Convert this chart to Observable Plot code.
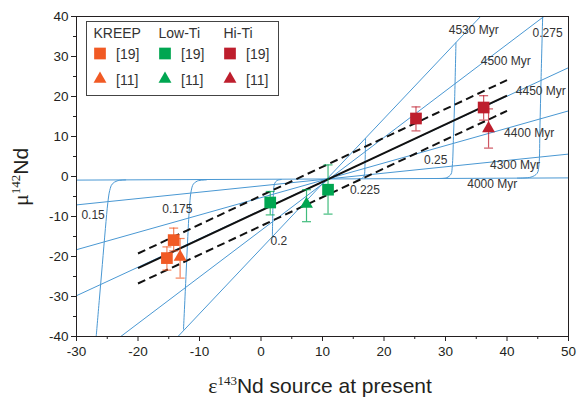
<!DOCTYPE html>
<html>
<head>
<meta charset="utf-8">
<script src="https://cdn.jsdelivr.net/npm/d3@7"></script>
<script src="https://cdn.jsdelivr.net/npm/@observablehq/plot@0.6"></script>
<style>
  html, body { margin: 0; padding: 0; background: #fff; }
  #chart { position: relative; width: 579px; height: 402px; }
</style>
</head>
<body>
<div id="chart"></div>
<script>
// ---- Axis ticks ----
const xTicks = [-30, -20, -10, 0, 10, 20, 30, 40, 50];
const xMinor = [-25, -15, -5, 5, 15, 25, 35, 45];
const yTicks = [-40, -30, -20, -10, 0, 10, 20, 30, 40];
const yMinor = [-35, -25, -15, -5, 5, 15, 25, 35];

// ---- Model isochrons (straight lines, endpoints) ----
const isoAges = ["4000 Myr", "4300 Myr", "4400 Myr", "4450 Myr", "4500 Myr", "4530 Myr"];
const isoX1 = [-30, -30, -30, -30, -22.8, -13.5];
const isoY1 = [-0.9, -7.1, -18.3, -29.8, -40, -40];
const isoX2 = [50, 50, 50, 50, 46.0, 35.7];
const isoY2 = [-0.35, 5.6, 16.4, 27.2, 40, 40];
const ageLabelX = [37.6, 41.3, 43.6, 45.5, 39.8, 34.6];
const ageLabelY = [-1.9, 2.9, 10.75, 21.25, 28.9, 36.7];

// ---- Model curves for constant source Sm/Nd ----
const ratioNames = ["0.15", "0.175", "0.2", "0.225", "0.25", "0.275"];
const curve015 = [[-22.0,-0.85],[-23.4,-1.1],[-24.2,-1.9],[-24.6,-3.5],[-24.9,-6.5],[-25.3,-13],[-25.8,-22],[-26.3,-31],[-26.8,-40]];
const curve0175 = [[-8.9,-0.85],[-10.3,-1.1],[-11.0,-1.9],[-11.35,-3.6],[-11.6,-7],[-11.9,-15],[-12.2,-25],[-12.6,-38.2]];
const curve02 = [[3.3,-0.75],[2.6,-1.0],[2.2,-1.8],[2.05,-3.5],[1.95,-7],[1.85,-15.0]];
const curve0225 = [[15.8,-0.65],[16.5,-0.4],[16.8,0.4],[16.9,2.5],[17.0,9.5]];
const curve025 = [[28.7,-0.5],[30.2,-0.3],[30.9,0.6],[31.1,2.5],[31.3,10],[31.5,20],[31.7,33.4]];
const curve0275 = [[41.7,-0.4],[43.9,-0.15],[44.9,0.8],[45.2,3.0],[45.35,12],[45.55,25],[45.8,40]];
const ratioLabelX = [-27.3, -13.6, 2.9, 16.9, 28.4, 46.6];
const ratioLabelY = [-9.6, -8.1, -16.1, -3.3, 4.1, 35.8];

// ---- Samples ----
const groups = ["KREEP","KREEP","KREEP","Low-Ti","Low-Ti","Low-Ti","Hi-Ti","Hi-Ti","Hi-Ti"];
const refs   = ["[19]","[19]","[11]","[19]","[19]","[11]","[19]","[19]","[11]"];
const eps    = [-15.3, -14.2, -13.15, 1.5, 10.9, 7.4, 25.2, 36.2, 37.0];
const mu     = [-20.4, -15.9, -20.1, -6.5, -3.3, -6.9, 14.5, 17.25, 12.0];
const muLo   = [-23.4, -18.6, -25.4, -9.6, -9.4, -11.3, 11.4, 14.1, 7.1];
const muHi   = [-17.6, -12.9, -15.5, -3.75, 2.9, -3.3, 17.4, 20.2, 16.9];

// ---- Regression line and confidence band ----
const regX = [-20, 40];
const regMid = [-22.9, 20.2];
const regUp = [-19.25, 24.1];
const regLo = [-26.75, 16.4];

// ---- Legend ----
const legendGroups = ["KREEP", "Low-Ti", "Hi-Ti"];
const legendRefs = ["[19]", "[11]"];

// ---------------- build tables ----------------
const groupColor = {"KREEP": "#f15a24", "Low-Ti": "#00a651", "Hi-Ti": "#be1e2d"};
const isoLines = isoAges.map((a, i) => ({age: a, x1: isoX1[i], y1: isoY1[i], x2: isoX2[i], y2: isoY2[i]}));
const ageLabels = isoAges.map((a, i) => ({t: a, x: ageLabelX[i], y: ageLabelY[i]}));
const curveSets = [curve015, curve0175, curve02, curve0225, curve025, curve0275];
const curvePts = curveSets.flatMap((c, i) => c.map(([x, y]) => ({r: ratioNames[i], x, y})));
const ratioLabels = ratioNames.map((r, i) => ({t: r, x: ratioLabelX[i], y: ratioLabelY[i]}));
const samples = eps.map((e, i) => ({g: groups[i], ref: refs[i], x: e, y: mu[i], lo: muLo[i], hi: muHi[i]}));
const sq = samples.filter(d => d.ref === "[19]");
const tri = samples.filter(d => d.ref === "[11]");
const regs = [
  {x1: regX[0], y1: regMid[0], x2: regX[1], y2: regMid[1], k: "mid"},
  {x1: regX[0], y1: regUp[0], x2: regX[1], y2: regUp[1], k: "up"},
  {x1: regX[0], y1: regLo[0], x2: regX[1], y2: regLo[1], k: "lo"}
];
const capSymbol = {draw(ctx, size) { const w = 4.5; ctx.moveTo(-w, 0); ctx.lineTo(w, 0); }};

const blue = "#4a98d3";
const ink = "#231f20";
const fontFam = "'Liberation Sans', Arial, Helvetica, sans-serif";

const chart = Plot.plot({
  width: 579,
  height: 402,
  marginLeft: 76,
  marginRight: 11,
  marginTop: 16,
  marginBottom: 66,
  style: {fontFamily: fontFam, fontSize: "13px", color: ink, background: "white"},
  x: {domain: [-30, 50], label: null},
  y: {domain: [-40, 40], label: null},
  marks: [
    Plot.link(isoLines, {x1: "x1", y1: "y1", x2: "x2", y2: "y2", stroke: blue, strokeWidth: 1, clip: true}),
    Plot.line(curvePts, {x: "x", y: "y", z: "r", stroke: blue, strokeWidth: 1, curve: "catmull-rom", clip: true}),
    Plot.link(regs.filter(d => d.k === "mid"), {x1: "x1", y1: "y1", x2: "x2", y2: "y2", stroke: "#111", strokeWidth: 2}),
    Plot.link(regs.filter(d => d.k !== "mid"), {x1: "x1", y1: "y1", x2: "x2", y2: "y2", stroke: "#111", strokeWidth: 2, strokeDasharray: "8,4.5"}),
    Plot.ruleX(samples, {x: "x", y1: "lo", y2: "hi", stroke: d => groupColor[d.g], strokeOpacity: 0.75, strokeWidth: 1.2}),
    Plot.dot(samples, {x: "x", y: "lo", symbol: capSymbol, stroke: d => groupColor[d.g], strokeOpacity: 0.75, strokeWidth: 1.2, fill: "none"}),
    Plot.dot(samples, {x: "x", y: "hi", symbol: capSymbol, stroke: d => groupColor[d.g], strokeOpacity: 0.75, strokeWidth: 1.2, fill: "none"}),
    Plot.dot(sq, {x: "x", y: "y", symbol: "square", r: 6.6, fill: d => groupColor[d.g], stroke: "none"}),
    Plot.dot(tri, {x: "x", y: "y", symbol: "triangle", r: 4.8, fill: d => groupColor[d.g], stroke: "none"}),
    Plot.text(ageLabels, {x: "x", y: "y", text: "t", fontSize: 12, fill: "#333"}),
    Plot.text(ratioLabels, {x: "x", y: "y", text: "t", fontSize: 12, fill: "#333"}),
    Plot.frame({stroke: ink, strokeWidth: 1}),
    Plot.axisX(xTicks, {tickSize: 5, tickPadding: 5, tickFormat: d => String(d), stroke: ink, fill: ink, fontSize: 13.5, label: null}),
    Plot.axisX(xMinor, {tickSize: 3, tickFormat: () => "", stroke: ink, label: null}),
    Plot.axisY(yTicks, {tickSize: 5, tickPadding: 3, tickFormat: d => String(d), stroke: ink, fill: ink, fontSize: 13.5, label: null}),
    Plot.axisY(yMinor, {tickSize: 3, tickFormat: () => "", stroke: ink, label: null})
  ]
});

document.getElementById("chart").appendChild(chart);

const svg = d3.select(chart);
const serif = "'Liberation Serif', 'Times New Roman', serif";

// y-axis title: μ^142 Nd
const yt = svg.append("text")
  .attr("transform", "translate(28,177) rotate(-90)")
  .attr("text-anchor", "middle")
  .attr("fill", ink)
  .style("font-family", fontFam)
  .style("font-size", "21px");
yt.append("tspan").style("font-family", serif).style("font-size", "22px").text("\u03BC");
yt.append("tspan").style("font-family", serif).style("font-size", "13px").attr("dy", -8).text("142");
yt.append("tspan").attr("dy", 8).text("Nd");

// x-axis title: ε^143 Nd source at present
const xt = svg.append("text")
  .attr("x", 320)
  .attr("y", 393)
  .attr("text-anchor", "middle")
  .attr("fill", ink)
  .style("font-family", fontFam)
  .style("font-size", "21px");
xt.append("tspan").style("font-family", serif).style("font-size", "22px").text("\u03B5");
xt.append("tspan").style("font-family", serif).style("font-size", "13px").attr("dy", -8).text("143");
xt.append("tspan").attr("dy", 8).text("Nd source at present");

// legend
const lg = svg.append("g")
  .attr("text-anchor", "start")
  .style("font-family", fontFam)
  .style("font-size", "14px");
lg.append("rect").attr("x", 86.5).attr("y", 21.5).attr("width", 192).attr("height", 74)
  .attr("fill", "white").attr("stroke", "#444").attr("stroke-width", 1);
const colX = [93.5, 158.5, 223.5];
legendGroups.forEach((g, i) => {
  lg.append("text").attr("x", colX[i]).attr("y", 38).attr("fill", "#333").attr("text-anchor", "start").text(g);
  const cx = colX[i] + 6.5;
  lg.append("path").attr("transform", `translate(${cx},53.5)`)
    .attr("d", d3.symbol(d3.symbolSquare, 137)()).attr("fill", groupColor[g]);
  lg.append("path").attr("transform", `translate(${cx},79)`)
    .attr("d", d3.symbol(d3.symbolTriangle, Math.PI * 4.8 * 4.8)()).attr("fill", groupColor[g]);
  lg.append("text").attr("x", colX[i] + 22.5).attr("y", 59).attr("fill", "#333").attr("text-anchor", "start").text(legendRefs[0]);
  lg.append("text").attr("x", colX[i] + 22.5).attr("y", 84.5).attr("fill", "#333").attr("text-anchor", "start").text(legendRefs[1]);
});
</script>
</body>
</html>
